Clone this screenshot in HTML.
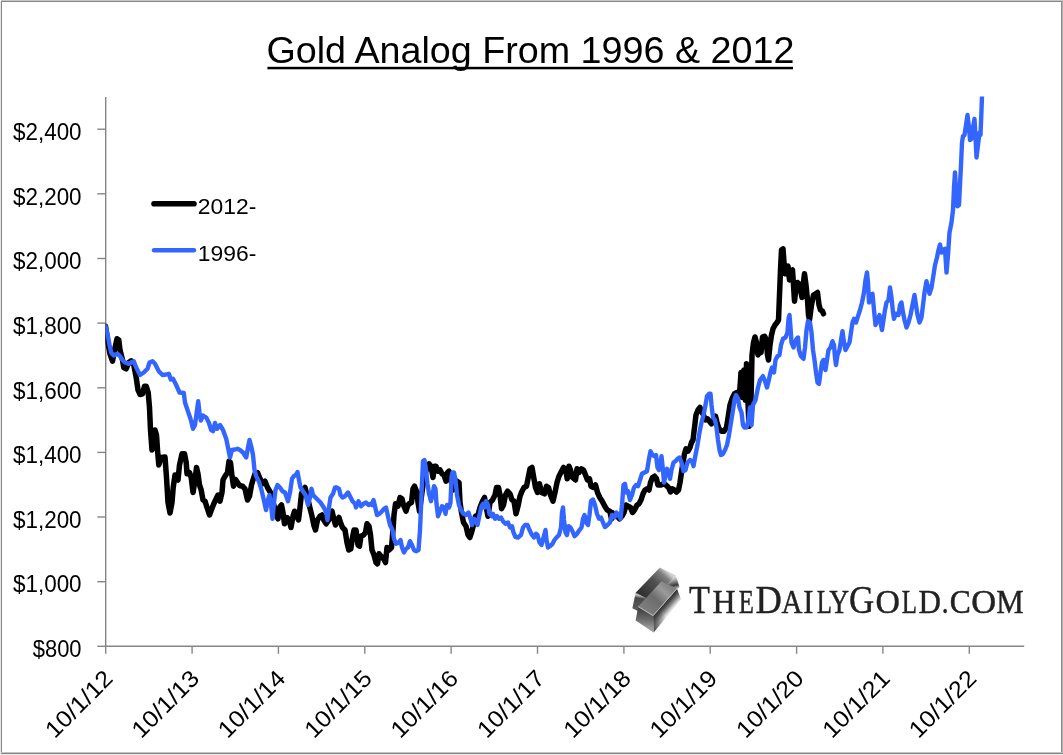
<!DOCTYPE html>
<html lang="en"><head><meta charset="utf-8"><title>Gold Analog From 1996 &amp; 2012</title>
<style>
html,body{margin:0;padding:0;background:#fff}
body{width:1063px;height:755px;overflow:hidden}
svg{display:block}
text{font-family:"Liberation Sans",Arial,sans-serif;fill:#000}
.lg text{font-family:"Liberation Serif","Times New Roman",serif;fill:#222}
</style></head><body>
<svg width="1063" height="755" viewBox="0 0 1063 755">
<defs>
<clipPath id="plot"><rect x="105.3" y="96.4" width="930" height="550"/></clipPath>
</defs>
<rect x="0" y="0" width="1063" height="755" fill="#fff"/>
<g shape-rendering="crispEdges">
<rect x="1" y="0" width="1062" height="1" fill="#c6c6c6"/><rect x="1" y="1" width="1061" height="1" fill="#868686"/>
<rect x="0" y="1" width="1" height="753" fill="#e6e6e6"/><rect x="1" y="1" width="1" height="753" fill="#868686"/>
<rect x="1061" y="1" width="1" height="753" fill="#8c8c8c"/><rect x="1062" y="1" width="1" height="753" fill="#b0b0b0"/>
<rect x="1" y="752" width="1061" height="1" fill="#c4c4c4"/><rect x="1" y="753" width="1062" height="1" fill="#868686"/><rect x="1" y="754" width="1062" height="1" fill="#ececec"/>
</g>

<text x="266.4" y="62.6" font-size="37.6" textLength="528" lengthAdjust="spacingAndGlyphs">Gold Analog From 1996 &amp; 2012</text>
<rect x="267.4" y="66.8" width="525.6" height="2.5" fill="#000"/>
<g stroke="#868686" stroke-width="1.4" fill="none">
<path d="M105.7,96.9 V646.3 H1024.2"/>
<path d="M97.3,129.2 H105.7"/>
<path d="M97.3,193.8 H105.7"/>
<path d="M97.3,258.5 H105.7"/>
<path d="M97.3,323.1 H105.7"/>
<path d="M97.3,387.8 H105.7"/>
<path d="M97.3,452.4 H105.7"/>
<path d="M97.3,517.0 H105.7"/>
<path d="M97.3,581.7 H105.7"/>
<path d="M97.3,646.3 H105.7"/>
<path d="M105.7,646.3 V653.8"/>
<path d="M192.1,646.3 V653.8"/>
<path d="M278.4,646.3 V653.8"/>
<path d="M364.8,646.3 V653.8"/>
<path d="M451.1,646.3 V653.8"/>
<path d="M537.5,646.3 V653.8"/>
<path d="M623.9,646.3 V653.8"/>
<path d="M710.2,646.3 V653.8"/>
<path d="M796.6,646.3 V653.8"/>
<path d="M882.9,646.3 V653.8"/>
<path d="M969.3,646.3 V653.8"/>
</g>
<text x="13.0" y="139.9" font-size="23.4" textLength="68.6" lengthAdjust="spacingAndGlyphs">$2,400</text>
<text x="13.0" y="204.5" font-size="23.4" textLength="68.6" lengthAdjust="spacingAndGlyphs">$2,200</text>
<text x="13.0" y="269.2" font-size="23.4" textLength="68.6" lengthAdjust="spacingAndGlyphs">$2,000</text>
<text x="13.0" y="333.8" font-size="23.4" textLength="68.6" lengthAdjust="spacingAndGlyphs">$1,800</text>
<text x="13.0" y="398.5" font-size="23.4" textLength="68.6" lengthAdjust="spacingAndGlyphs">$1,600</text>
<text x="13.0" y="463.1" font-size="23.4" textLength="68.6" lengthAdjust="spacingAndGlyphs">$1,400</text>
<text x="13.0" y="527.7" font-size="23.4" textLength="68.6" lengthAdjust="spacingAndGlyphs">$1,200</text>
<text x="13.0" y="592.4" font-size="23.4" textLength="68.6" lengthAdjust="spacingAndGlyphs">$1,000</text>
<text x="32.7" y="657.0" font-size="23.4" textLength="48.9" lengthAdjust="spacingAndGlyphs">$800</text>
<text transform="translate(78.9,704.0) rotate(-45)" x="0" y="8" text-anchor="middle" font-size="23.4" textLength="84" lengthAdjust="spacingAndGlyphs">10/1/12</text>
<text transform="translate(165.3,704.0) rotate(-45)" x="0" y="8" text-anchor="middle" font-size="23.4" textLength="84" lengthAdjust="spacingAndGlyphs">10/1/13</text>
<text transform="translate(251.6,704.0) rotate(-45)" x="0" y="8" text-anchor="middle" font-size="23.4" textLength="84" lengthAdjust="spacingAndGlyphs">10/1/14</text>
<text transform="translate(338.0,704.0) rotate(-45)" x="0" y="8" text-anchor="middle" font-size="23.4" textLength="84" lengthAdjust="spacingAndGlyphs">10/1/15</text>
<text transform="translate(424.3,704.0) rotate(-45)" x="0" y="8" text-anchor="middle" font-size="23.4" textLength="84" lengthAdjust="spacingAndGlyphs">10/1/16</text>
<text transform="translate(510.7,704.0) rotate(-45)" x="0" y="8" text-anchor="middle" font-size="23.4" textLength="84" lengthAdjust="spacingAndGlyphs">10/1/17</text>
<text transform="translate(597.1,704.0) rotate(-45)" x="0" y="8" text-anchor="middle" font-size="23.4" textLength="84" lengthAdjust="spacingAndGlyphs">10/1/18</text>
<text transform="translate(683.4,704.0) rotate(-45)" x="0" y="8" text-anchor="middle" font-size="23.4" textLength="84" lengthAdjust="spacingAndGlyphs">10/1/19</text>
<text transform="translate(769.8,704.0) rotate(-45)" x="0" y="8" text-anchor="middle" font-size="23.4" textLength="84" lengthAdjust="spacingAndGlyphs">10/1/20</text>
<text transform="translate(856.1,704.0) rotate(-45)" x="0" y="8" text-anchor="middle" font-size="23.4" textLength="84" lengthAdjust="spacingAndGlyphs">10/1/21</text>
<text transform="translate(942.5,704.0) rotate(-45)" x="0" y="8" text-anchor="middle" font-size="23.4" textLength="84" lengthAdjust="spacingAndGlyphs">10/1/22</text>
<path d="M154,203.8 H194" stroke="#000" stroke-width="5.6" stroke-linecap="round"/>
<path d="M154,250.2 H194" stroke="#3366ff" stroke-width="4.4" stroke-linecap="round"/>
<text x="197.8" y="213.8" font-size="22.2" textLength="58.5" lengthAdjust="spacingAndGlyphs">2012-</text>
<text x="197.8" y="260.5" font-size="22.2" textLength="58.5" lengthAdjust="spacingAndGlyphs">1996-</text>
<g clip-path="url(#plot)" fill="none" stroke-linejoin="round" stroke-linecap="round">
<path d="M105.5,326.2 L107.5,340.0 L110.0,353.8 L112.5,361.2 L114.5,350.0 L117.0,338.8 L118.8,340.0 L120.0,350.0 L122.5,360.0 L123.8,367.5 L126.2,368.8 L128.8,362.5 L131.2,360.8 L133.8,365.0 L136.2,377.5 L138.0,390.0 L140.0,394.5 L142.5,393.8 L144.5,386.2 L146.2,386.2 L148.2,392.5 L149.5,407.5 L150.5,430.0 L152.0,450.0 L153.8,440.0 L155.0,430.0 L156.5,435.0 L157.5,450.0 L158.8,465.0 L161.2,457.5 L165.0,457.0 L166.5,477.5 L168.0,502.5 L170.0,513.0 L172.0,502.5 L173.2,487.5 L175.0,475.0 L176.2,478.8 L178.0,480.0 L179.5,465.0 L182.0,453.8 L184.5,453.8 L186.2,462.5 L187.0,473.8 L189.5,472.5 L191.2,477.5 L193.0,492.5 L195.0,480.0 L196.5,467.5 L198.0,473.8 L199.5,485.0 L201.2,490.0 L203.0,500.0 L205.0,501.2 L207.0,507.5 L209.5,515.0 L211.8,508.8 L213.8,503.8 L216.2,498.8 L218.0,495.0 L220.0,501.2 L222.0,492.5 L223.0,480.0 L225.0,476.2 L227.5,472.5 L229.0,461.2 L230.5,462.5 L232.0,476.2 L233.5,486.2 L235.5,479.5 L237.5,482.5 L239.5,485.5 L242.5,486.2 L245.0,488.8 L247.5,500.0 L249.5,496.2 L251.5,485.0 L253.0,480.0 L255.0,473.8 L257.5,472.5 L260.0,478.8 L262.5,483.8 L265.0,481.2 L267.5,487.5 L270.5,492.5 L273.8,505.0 L276.2,515.0 L278.0,518.8 L279.5,507.5 L281.5,505.0 L283.0,512.5 L284.5,523.8 L287.0,517.5 L289.0,520.0 L291.0,527.5 L293.0,516.2 L294.5,511.2 L296.5,515.0 L298.5,520.0 L300.0,507.5 L301.5,493.8 L303.0,490.0 L305.0,487.5 L307.5,497.5 L309.5,506.2 L312.0,516.2 L313.8,525.0 L315.5,530.0 L317.5,520.0 L320.0,516.2 L322.0,515.0 L323.8,520.0 L326.2,523.8 L328.8,520.0 L330.5,512.5 L332.0,511.2 L333.8,518.8 L335.5,525.0 L337.5,520.0 L339.0,517.5 L340.5,522.5 L342.5,527.5 L345.0,530.0 L347.0,542.5 L348.8,550.0 L350.8,548.8 L352.5,537.5 L354.0,530.0 L355.5,537.5 L356.0,530.0 L358.0,545.0 L359.5,546.2 L361.0,536.2 L363.5,535.0 L365.5,532.5 L367.0,523.8 L369.0,526.2 L370.5,535.0 L372.0,550.0 L374.0,555.0 L376.0,562.5 L377.5,563.8 L379.0,553.8 L381.0,556.2 L383.5,558.8 L385.5,562.5 L387.0,547.5 L389.0,550.0 L391.5,547.5 L393.0,530.0 L394.0,515.0 L395.5,503.8 L398.0,506.2 L400.0,497.5 L402.0,498.8 L403.5,505.0 L406.0,511.2 L407.5,506.2 L409.0,503.8 L411.5,502.5 L413.0,488.8 L414.5,486.2 L416.5,491.2 L418.0,502.5 L419.5,511.2 L421.0,500.0 L423.0,485.0 L425.0,473.8 L427.2,467.5 L429.0,463.8 L431.0,466.2 L433.0,477.5 L434.5,466.2 L436.0,466.2 L438.0,471.2 L440.0,470.0 L442.0,473.8 L444.0,475.0 L446.0,481.2 L447.5,472.5 L449.0,471.2 L451.0,480.0 L453.0,490.0 L455.0,485.0 L457.0,481.2 L459.0,482.5 L460.0,502.5 L461.5,512.5 L463.5,522.5 L466.0,526.2 L468.0,535.0 L469.8,537.5 L471.5,532.5 L473.5,525.0 L475.5,516.2 L478.0,515.0 L480.0,507.5 L482.5,501.2 L484.5,497.5 L486.0,506.2 L488.0,516.2 L490.0,502.5 L492.5,500.0 L495.0,495.0 L496.5,487.5 L498.5,487.5 L500.0,495.0 L501.5,508.8 L503.5,505.0 L505.5,495.0 L507.5,491.2 L510.0,493.8 L512.0,500.0 L514.0,501.2 L516.0,513.8 L518.0,506.2 L520.0,496.2 L522.0,491.2 L524.0,487.5 L526.5,486.2 L528.5,476.2 L530.0,468.8 L532.0,467.5 L533.5,476.2 L535.5,487.5 L537.5,492.5 L539.5,483.8 L541.5,492.5 L544.5,493.8 L546.5,486.2 L548.5,487.5 L550.5,495.0 L553.0,501.2 L555.0,492.5 L557.0,482.5 L559.0,476.2 L561.5,471.2 L563.5,467.5 L565.5,468.8 L567.2,478.8 L569.0,466.2 L570.5,470.0 L572.5,477.5 L575.5,480.0 L577.0,468.8 L579.0,472.5 L581.5,468.8 L583.5,470.0 L585.5,475.0 L587.5,480.0 L589.5,478.8 L591.0,486.2 L593.5,487.5 L595.5,485.0 L597.5,492.5 L599.8,497.5 L602.2,501.2 L604.8,506.2 L607.2,510.0 L609.8,511.2 L611.5,518.8 L612.0,512.5 L614.5,515.0 L617.0,516.2 L619.5,518.8 L622.0,516.2 L624.0,512.5 L626.0,505.0 L628.0,506.2 L630.5,507.5 L632.5,512.5 L634.5,510.0 L637.0,505.0 L639.0,503.8 L641.0,500.0 L643.0,493.8 L645.0,490.0 L647.0,488.8 L649.0,490.0 L650.5,482.5 L652.5,477.5 L654.5,476.2 L656.5,478.8 L658.0,485.0 L661.0,485.0 L663.5,483.8 L666.0,485.0 L668.5,487.5 L670.5,492.0 L672.5,488.8 L674.5,490.0 L676.5,492.0 L678.5,490.0 L680.0,482.5 L681.5,472.5 L683.0,462.5 L684.5,453.8 L686.0,448.8 L688.0,451.2 L690.0,447.5 L691.5,442.5 L693.0,440.0 L694.5,427.5 L696.0,415.0 L698.0,410.0 L700.0,407.5 L701.5,411.2 L703.5,415.0 L705.5,420.0 L707.5,418.8 L709.5,421.2 L711.5,423.8 L713.5,420.0 L715.5,416.2 L717.0,422.5 L719.0,428.8 L721.5,431.2 L724.0,431.2 L726.5,427.5 L728.5,415.0 L730.0,405.0 L732.0,398.8 L734.5,393.8 L737.0,392.5 L739.5,395.0 L741.0,372.5 L742.5,397.5 L744.0,370.0 L745.5,400.0 L746.5,363.8 L748.0,402.5 L749.0,426.2 L750.0,367.5 L751.0,400.0 L752.0,355.0 L753.5,342.5 L753.5,342.5 L755.0,337.0 L756.5,342.5 L758.0,355.0 L759.5,350.0 L761.0,352.5 L762.5,337.0 L764.5,336.2 L766.0,338.8 L767.5,355.0 L768.5,360.0 L770.0,345.0 L771.5,335.0 L773.0,328.8 L775.0,325.0 L777.0,322.5 L778.5,320.0 L779.5,295.0 L780.5,270.0 L781.5,250.0 L783.0,248.8 L784.0,262.5 L785.0,273.8 L786.5,267.5 L788.0,266.2 L789.5,280.0 L791.0,271.2 L792.5,270.0 L793.5,285.0 L794.5,301.2 L796.0,287.5 L797.5,282.5 L799.0,283.8 L800.5,290.0 L802.0,297.5 L803.5,282.5 L804.5,273.8 L806.0,285.0 L807.5,300.0 L808.5,315.0 L809.5,320.0 L811.5,305.0 L813.5,295.0 L815.5,293.8 L817.5,292.5 L819.0,305.0 L820.5,310.0 L822.5,311.2 L823.5,313.8" stroke="#000" stroke-width="5.5"/>
<path d="M105.5,326.2 L107.5,333.8 L109.5,345.0 L111.2,352.5 L113.8,355.5 L117.5,353.8 L120.0,356.2 L122.5,360.0 L125.0,362.5 L128.8,363.8 L131.2,362.5 L133.8,361.2 L136.2,367.5 L140.0,375.0 L143.8,372.5 L147.5,368.8 L149.5,362.5 L152.5,361.2 L155.0,363.8 L158.8,371.2 L162.5,375.0 L166.2,374.5 L168.8,373.8 L170.8,379.5 L173.0,378.8 L176.2,385.0 L179.5,392.5 L183.8,393.0 L185.0,402.5 L187.5,410.0 L190.5,418.8 L193.0,428.8 L195.0,425.0 L197.0,410.0 L198.2,401.2 L199.5,412.5 L200.8,420.5 L203.0,415.5 L206.2,417.5 L208.8,422.5 L211.2,430.0 L213.0,431.2 L215.0,423.0 L217.0,428.8 L220.0,425.0 L223.0,430.0 L226.2,438.8 L228.0,447.5 L230.0,457.5 L232.0,450.0 L235.0,449.5 L237.5,448.8 L240.0,450.0 L243.0,452.5 L246.2,457.5 L248.0,447.5 L249.5,440.0 L251.5,447.5 L253.0,455.0 L254.5,470.0 L256.2,476.2 L258.8,481.2 L261.2,488.8 L263.8,500.0 L266.0,510.0 L268.0,500.0 L269.5,495.0 L271.0,505.0 L272.5,518.8 L274.0,502.5 L275.5,490.0 L277.5,485.0 L280.0,487.5 L282.5,491.2 L285.0,492.5 L288.0,501.2 L290.0,492.5 L292.0,478.8 L293.8,476.2 L295.8,475.0 L297.5,472.0 L299.0,480.0 L300.5,487.5 L303.0,491.2 L305.5,495.0 L308.0,505.0 L310.0,497.5 L311.5,488.8 L313.0,495.0 L315.5,497.5 L318.0,500.0 L320.5,502.5 L323.8,507.5 L326.2,512.5 L327.5,520.0 L329.0,507.5 L330.5,497.5 L333.0,493.8 L335.0,487.5 L337.0,487.5 L339.0,488.8 L340.5,495.0 L342.5,497.5 L345.0,496.2 L348.0,492.5 L350.0,496.2 L352.5,501.2 L355.0,503.8 L356.0,507.5 L358.5,501.2 L361.0,506.2 L363.5,503.8 L366.0,502.5 L368.5,505.0 L370.5,503.8 L372.0,505.0 L373.5,500.0 L375.0,506.2 L377.0,515.0 L379.5,513.8 L382.0,511.2 L384.0,508.8 L386.0,507.5 L388.0,516.2 L390.0,525.0 L392.5,530.0 L394.0,538.8 L396.0,543.8 L398.5,542.5 L400.5,540.0 L402.0,547.5 L404.0,552.5 L406.0,548.8 L408.0,547.5 L410.0,541.2 L412.0,545.0 L414.0,550.0 L416.0,551.2 L418.5,550.0 L420.0,530.0 L421.0,507.5 L422.0,482.5 L423.0,461.2 L424.5,460.0 L426.0,470.0 L427.5,483.8 L429.0,493.8 L431.0,501.2 L432.5,495.0 L434.0,486.2 L435.5,488.8 L436.5,503.8 L438.0,516.2 L440.0,511.2 L442.0,506.2 L444.0,507.5 L445.5,513.8 L447.0,505.0 L449.0,507.5 L450.5,502.5 L451.5,477.5 L452.5,472.5 L454.0,472.5 L455.5,480.0 L457.0,495.0 L459.0,505.0 L461.0,510.0 L463.5,513.8 L466.0,515.0 L468.5,512.5 L470.5,518.8 L472.0,525.0 L474.0,518.8 L475.5,520.0 L477.5,525.0 L479.5,515.0 L481.5,506.2 L483.0,503.8 L484.5,507.5 L486.0,501.2 L488.0,505.0 L489.5,513.8 L491.5,516.2 L493.0,513.8 L495.0,518.8 L497.0,516.2 L499.0,518.8 L501.0,517.5 L503.0,521.2 L505.5,523.8 L508.0,522.5 L510.0,527.5 L512.0,526.2 L513.5,532.5 L515.5,537.0 L518.0,537.5 L521.0,535.0 L523.0,527.5 L525.0,525.0 L527.5,525.0 L529.5,530.0 L532.0,535.0 L534.0,537.5 L536.0,533.8 L537.5,535.0 L539.5,542.5 L541.5,545.0 L543.5,537.5 L545.5,530.0 L546.5,540.0 L548.0,547.5 L550.0,546.2 L552.5,543.8 L554.5,540.0 L556.5,537.5 L559.0,535.0 L561.0,527.5 L562.0,512.5 L563.0,507.5 L564.0,520.0 L565.5,532.5 L567.0,535.0 L568.5,526.2 L570.5,527.5 L572.5,531.2 L574.5,536.2 L577.0,533.8 L579.5,530.0 L581.5,527.5 L583.0,518.8 L584.5,515.0 L586.0,522.5 L588.0,525.0 L589.5,515.0 L591.0,501.2 L593.0,499.5 L595.0,505.0 L597.0,513.8 L599.0,518.8 L601.0,517.5 L603.0,522.5 L605.0,527.0 L607.5,525.0 L610.0,522.5 L612.0,515.0 L614.5,517.5 L616.5,512.5 L618.5,515.0 L620.5,518.8 L622.0,505.0 L623.5,485.0 L625.0,483.8 L626.5,492.5 L628.0,491.2 L630.0,500.0 L632.0,495.0 L634.0,487.5 L636.0,485.0 L638.0,486.2 L640.0,480.0 L642.0,473.8 L644.5,472.5 L647.0,471.2 L649.0,458.8 L650.5,451.2 L652.5,455.0 L654.5,456.2 L656.0,455.0 L657.5,467.5 L659.0,470.0 L660.5,462.5 L661.5,456.2 L663.0,470.0 L664.0,482.5 L665.5,475.0 L667.0,468.8 L668.5,471.2 L670.0,478.8 L671.5,470.0 L673.5,462.5 L675.5,461.2 L677.5,458.8 L679.5,457.5 L681.5,462.5 L683.5,471.2 L685.5,470.0 L687.5,462.5 L690.0,460.0 L692.0,461.2 L693.5,466.2 L695.5,455.0 L697.5,445.0 L699.5,432.5 L701.5,422.5 L703.5,415.0 L705.5,405.0 L707.0,396.2 L709.0,393.8 L710.5,393.8 L711.5,405.0 L713.0,417.5 L715.0,420.0 L716.5,427.5 L718.0,440.0 L719.5,450.0 L721.0,455.0 L723.0,453.8 L725.0,450.0 L727.0,445.0 L729.0,435.0 L731.0,422.5 L733.0,410.0 L734.5,400.0 L736.0,395.0 L738.0,398.8 L739.5,407.5 L741.5,412.5 L743.0,425.0 L744.5,427.5 L746.5,427.5 L748.5,420.0 L750.0,407.5 L751.5,425.0 L753.0,405.0 L755.5,400.0 L758.0,387.5 L760.0,380.0 L763.0,376.2 L765.0,381.2 L767.0,387.5 L768.8,380.0 L770.5,372.5 L772.0,367.5 L774.0,372.5 L775.5,360.0 L777.5,356.2 L779.5,355.0 L781.0,345.0 L783.0,338.8 L785.5,337.5 L787.5,332.5 L788.5,318.8 L789.5,315.0 L790.5,327.5 L791.5,342.5 L793.5,347.5 L795.0,342.5 L796.5,338.8 L798.0,337.5 L799.0,350.0 L801.0,356.2 L803.5,358.8 L805.0,347.5 L806.5,330.0 L808.0,321.2 L810.0,322.5 L811.5,332.5 L813.0,350.0 L814.5,360.0 L816.0,372.5 L817.5,382.5 L819.0,383.8 L820.5,372.5 L822.0,362.5 L823.5,360.0 L825.5,370.0 L827.0,360.0 L828.5,350.0 L830.5,347.5 L832.5,341.2 L834.0,345.0 L835.0,357.5 L836.0,365.0 L837.5,355.0 L839.5,350.0 L841.0,340.0 L842.5,331.2 L844.0,342.5 L845.5,350.0 L847.5,346.2 L849.5,342.5 L851.0,332.5 L852.5,322.5 L854.0,318.8 L856.0,322.5 L858.0,316.2 L860.0,310.0 L862.0,302.5 L864.0,292.5 L865.5,280.0 L867.0,272.5 L868.0,282.5 L869.0,302.5 L870.5,295.0 L872.5,293.8 L874.0,310.0 L875.5,325.0 L877.5,320.0 L879.5,315.0 L880.5,322.5 L882.0,330.0 L883.5,320.0 L885.0,310.0 L886.5,302.5 L888.5,300.0 L890.0,287.5 L891.5,297.5 L893.0,312.5 L894.0,318.8 L896.0,313.8 L898.5,315.0 L900.0,305.0 L901.5,302.5 L903.0,312.5 L904.5,320.0 L906.5,327.5 L908.5,322.5 L910.5,315.0 L912.5,305.0 L914.5,295.0 L916.0,305.0 L917.5,315.0 L919.5,322.5 L921.5,317.5 L923.0,305.0 L924.5,292.5 L926.5,281.2 L928.0,287.5 L929.5,293.8 L931.5,287.5 L933.5,275.0 L935.0,265.0 L937.0,257.5 L938.5,250.0 L940.0,244.5 L941.5,252.5 L943.0,250.0 L945.0,248.8 L946.5,272.5 L948.0,255.0 L949.5,232.5 L951.5,222.5 L953.0,210.0 L954.0,187.5 L955.0,172.5 L956.0,190.0 L957.5,206.2 L959.0,205.0 L960.0,185.0 L961.0,165.0 L962.0,142.5 L963.0,136.2 L964.5,135.0 L966.0,125.0 L967.5,115.0 L969.0,127.5 L970.0,140.0 L971.5,138.8 L973.0,127.5 L974.5,118.8 L975.5,137.5 L976.5,157.5 L978.0,145.0 L979.5,132.5 L980.5,135.0 L981.5,110.0 L982.0,96.2" stroke="#3366ff" stroke-width="4.4"/>
</g>
<defs>
<filter id="soft" x="-10%" y="-10%" width="120%" height="120%"><feGaussianBlur stdDeviation="0.55"/></filter>
<linearGradient id="gbt" gradientUnits="userSpaceOnUse" x1="644.1" y1="597.1" x2="667.4" y2="571.6"><stop offset="0" stop-color="#303030"/><stop offset="0.55" stop-color="#525252"/><stop offset="0.85" stop-color="#808080"/><stop offset="1" stop-color="#d0d0d0"/></linearGradient>
<linearGradient id="gbr" gradientUnits="userSpaceOnUse" x1="674.8" y1="575.9" x2="677.9" y2="588.6"><stop offset="0" stop-color="#f2f2f2"/><stop offset="0.35" stop-color="#9a9a9a"/><stop offset="0.7" stop-color="#3a3a3a"/><stop offset="1" stop-color="#cfcfcf"/></linearGradient>
<linearGradient id="gbe" gradientUnits="userSpaceOnUse" x1="636.6" y1="592.8" x2="634.0" y2="608.7"><stop offset="0" stop-color="#8a8a8a"/><stop offset="0.12" stop-color="#c4c4c4"/><stop offset="0.3" stop-color="#4a4a4a"/><stop offset="1" stop-color="#5a5a5a"/></linearGradient>
<linearGradient id="gft" gradientUnits="userSpaceOnUse" x1="645.1" y1="610.8" x2="669.5" y2="584.9"><stop offset="0" stop-color="#7e7e7e"/><stop offset="0.45" stop-color="#6c6c6c"/><stop offset="0.75" stop-color="#9a9a9a"/><stop offset="1" stop-color="#808080"/></linearGradient>
<linearGradient id="gfe" gradientUnits="userSpaceOnUse" x1="645.1" y1="610.8" x2="644.1" y2="627.8"><stop offset="0" stop-color="#474747"/><stop offset="0.5" stop-color="#6a6a6a"/><stop offset="1" stop-color="#9a9a9a"/></linearGradient>
<linearGradient id="gfr" gradientUnits="userSpaceOnUse" x1="664.7" y1="602.4" x2="672.3" y2="609.1"><stop offset="0" stop-color="#b0b0b0"/><stop offset="0.08" stop-color="#333333"/><stop offset="0.3" stop-color="#4c4c4c"/><stop offset="0.6" stop-color="#8a8a8a"/><stop offset="0.85" stop-color="#c8c8c8"/><stop offset="1" stop-color="#e6e6e6"/></linearGradient>
<linearGradient id="gfr2" gradientUnits="userSpaceOnUse" x1="653.6" y1="632.5" x2="667.4" y2="617.2"><stop offset="0" stop-color="#3a3a3a"/><stop offset="1" stop-color="#3a3a3a00"/></linearGradient>
</defs>
<g filter="url(#soft)">
<polygon points="635.6,592.8 652.0,601.3 649.9,617.2 632.4,608.2" fill="url(#gbe)" />
<polygon points="675.8,575.4 679.5,587.0 655.7,612.9 652.0,601.3" fill="url(#gbr)" />
<polygon points="635.6,592.8 659.9,567.4 675.8,575.4 652.0,601.3" fill="url(#gbt)" />
<polygon points="653.1,615.6 676.9,588.6 681.1,599.2 653.6,632.5" fill="url(#gfr)" />
<polygon points="653.1,615.6 676.9,588.6 681.1,599.2 653.6,632.5" fill="url(#gfr2)" />
<polygon points="638.2,606.6 653.1,615.6 653.6,632.5 635.6,620.4" fill="url(#gfe)" />
<polygon points="638.2,606.6 661.5,581.2 676.9,588.6 653.1,615.6" fill="url(#gft)" />
<path d="M638.2,606.6 L653.1,615.6" stroke="#c8c8c8" stroke-width="0.9" fill="none"/>
<path d="M653.1,615.6 L676.9,588.6" stroke="#bdbdbd" stroke-width="0.8" fill="none"/>
</g>
<g class="lg"><title>THEDAILYGOLD.COM</title><text y="612.8" stroke="#222" stroke-width="0.45"><tspan x="689.10" font-size="39.7" textLength="20.91" lengthAdjust="spacingAndGlyphs">T</tspan><tspan x="712.50" font-size="33.1" textLength="23.06" lengthAdjust="spacingAndGlyphs">H</tspan><tspan x="738.80" font-size="33.1" textLength="15.10" lengthAdjust="spacingAndGlyphs">E</tspan><tspan x="755.48" font-size="39.7" textLength="26.33" lengthAdjust="spacingAndGlyphs">D</tspan><tspan x="781.60" font-size="33.1" textLength="21.00" lengthAdjust="spacingAndGlyphs">A</tspan><tspan x="803.28" font-size="33.1" textLength="10.16" lengthAdjust="spacingAndGlyphs">I</tspan><tspan x="816.80" font-size="33.1" textLength="15.21" lengthAdjust="spacingAndGlyphs">L</tspan><tspan x="829.20" font-size="33.1" textLength="19.81" lengthAdjust="spacingAndGlyphs">Y</tspan><tspan x="849.02" font-size="39.7" textLength="25.16" lengthAdjust="spacingAndGlyphs">G</tspan><tspan x="875.58" font-size="33.1" textLength="24.43" lengthAdjust="spacingAndGlyphs">O</tspan><tspan x="901.80" font-size="33.1" textLength="15.21" lengthAdjust="spacingAndGlyphs">L</tspan><tspan x="918.40" font-size="33.1" textLength="22.43" lengthAdjust="spacingAndGlyphs">D</tspan><tspan x="941.76" font-size="33.1" textLength="6.78" lengthAdjust="spacingAndGlyphs">.</tspan><tspan x="949.84" font-size="33.1" textLength="21.07" lengthAdjust="spacingAndGlyphs">C</tspan><tspan x="971.16" font-size="33.1" textLength="24.87" lengthAdjust="spacingAndGlyphs">O</tspan><tspan x="996.30" font-size="33.1" textLength="27.48" lengthAdjust="spacingAndGlyphs">M</tspan></text></g>
</svg></body></html>
